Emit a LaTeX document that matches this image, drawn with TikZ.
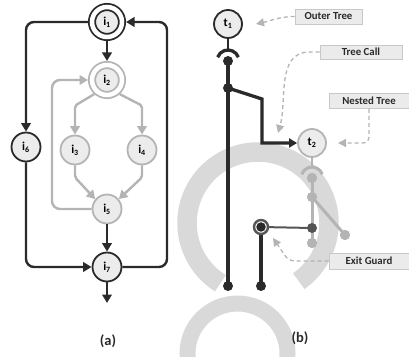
\documentclass[tikz,border=0pt]{standalone}
\usepackage{fontspec}
\setmainfont{Carlito}[BoldFont={Carlito Bold}]
\usetikzlibrary{arrows.meta}
\definecolor{ink}{HTML}{2A2A2A}
\definecolor{pale}{HTML}{ECECEC}
\definecolor{soft}{HTML}{B4B4B4}
\definecolor{mid}{HTML}{555555}
\definecolor{band}{HTML}{D9D9D9}
\definecolor{boxline}{HTML}{C8C8C8}
\definecolor{boxfill}{HTML}{EBEBEB}
\tikzset{
  inode/.style={circle,draw=ink,fill=pale,line width=1.8pt,minimum size=29pt,inner sep=0pt,
    font=\bfseries\fontsize{12}{14}\selectfont},
  gnode/.style={inode,draw=soft},
  dnode/.style={inode,double=white,double distance=4.5pt,minimum size=30pt,outer sep=4pt},
  darkedge/.style={draw=ink,line width=2.4pt,-{Triangle[length=8.5pt,width=9.5pt]}},
  greyedge/.style={draw=soft,line width=2.4pt,-{Triangle[length=8.5pt,width=9.5pt]}},
  bline/.style={draw=ink,line width=3.3pt},
  gline/.style={draw=soft,line width=3pt},
  bdot/.style={circle,fill=ink,inner sep=0pt,minimum size=10pt},
  gdot/.style={bdot,fill=soft},
  callout/.style={draw=boxline,fill=boxfill,line width=0.6pt,inner sep=0pt,text=ink,
    font=\bfseries\fontsize{10.8}{12}\selectfont},
  pointer/.style={draw=soft,line width=1.3pt,dash pattern=on 4pt off 3pt,
    -{Triangle[length=8pt,width=8pt]}},
  caption/.style={font=\bfseries\fontsize{14.5}{16}\selectfont,text=ink}
}
\begin{document}
\begin{tikzpicture}[x=1pt,y=1pt]
\clip (0,0) rectangle (409,356);
%background bands
\draw[band,line width=19.5pt] (258,133) ++(-55:71) arc (-55:238:71);
\draw[band,line width=16pt] (237.5,2.5) circle (50);
%(a) nodes
\node[dnode] (i1) at (107,334) {i\textsubscript{1}};
\node[dnode,draw=soft] (i2) at (107,276) {i\textsubscript{2}};
\node[gnode] (i3) at (75,206) {i\textsubscript{3}};
\node[gnode] (i4) at (142,206) {i\textsubscript{4}};
\node[gnode] (i5) at (107,147) {i\textsubscript{5}};
\node[inode] (i6) at (26,209) {i\textsubscript{6}};
\node[inode] (i7) at (107,89) {i\textsubscript{7}};
\coordinate (outA) at (107,53);
\coordinate (rgt) at (167,334);
\coordinate (loopc) at (52,276);
%(a) edges
\draw[darkedge] (i1) -- (i2);
\draw[darkedge,rounded corners=8] (i1.west) -| (i6.north);
\draw[darkedge,rounded corners=8] (i6.south) |- (i7.west);
\draw[darkedge,rounded corners=8] (i7.east) -| (rgt) -- (i1.east);
\draw[darkedge] (i5) -- (i7);
\draw[darkedge] (i7) -- (outA);
\draw[greyedge,rounded corners=2] (i2.-132) -- ([yshift=29pt]i3.north) -- (i3.north);
\draw[greyedge,rounded corners=2] (i2.-48) -- ([yshift=29pt]i4.north) -- (i4.north);
\draw[greyedge,rounded corners=2] (i3.south) -- ([yshift=-12pt]i3.south) -- (i5.140);
\draw[greyedge,rounded corners=2] (i4.south) -- ([yshift=-12pt]i4.south) -- (i5.40);
\draw[greyedge,rounded corners=8] (i5.west) -| (loopc) -- (i2.west);
\node[caption] (capa) at (108,15) {(a)};
%(b) outer tree
\node[inode,minimum size=28pt] (t1) at (228,332) {t\textsubscript{1}};
\node[bdot] (d1) at (228,295) {};
\node[bdot] (j1) at (228,268) {};
\node[bdot] (bot1) at (228,70) {};
\node[bdot] (bot2) at (261,70) {};
\coordinate (k1) at (262,257);
\coordinate (k2) at (262,213);
\draw[draw=ink,line width=2.5pt] (t1.south) -- ([yshift=11pt]d1.center);
\draw[bline] ([shift={(20:11)}]d1.center) arc (20:160:11);
\draw[bline] (d1.center) -- (bot1.center);
%(b) nested tree
\node[gnode,minimum size=28pt] (t2) at (312,213) {t\textsubscript{2}};
\draw[bline,-{Triangle[length=8pt,width=9pt]}] (j1.center) -- (k1) -- (k2) -- (t2.west);
\node[gdot] (u1) at (312,178) {};
\node[gdot] (u2) at (312,159) {};
\node[gdot] (u3) at (345,121) {};
\node[gdot] (u5) at (312,113) {};
\draw[draw=soft,line width=2.5pt] (t2.south) -- ([yshift=11pt]u1.center);
\draw[gline] ([shift={(20:11)}]u1.center) arc (20:160:11);
\draw[gline] (u1.center) -- (u5.center);
\draw[gline] (u2.center) -- (u3.center);
\node[gdot] (u1b) at (u1) {};
\node[gdot] (u2b) at (u2) {};
\node[gdot] (u3b) at (u3) {};
\node[gdot] (u5b) at (u5) {};
%exit guard
\node[bdot,fill=mid] (u4) at (312,128) {};
\coordinate (egc) at (261,129);
\draw[draw=mid,line width=2pt] (egc) -- (u4.center);
\draw[bline] (egc) -- (bot2.center);
\node[circle,draw=mid,line width=2.4pt,fill=white,minimum size=14pt,inner sep=0pt] (eg) at (egc) {};
\node[bdot,minimum size=9.5pt] (egin) at (egc) {};
\node[caption] (capb) at (300,18) {(b)};
%callouts
\node[callout,minimum width=67pt,minimum height=15pt] (outer) at (328.5,339.5) {Outer Tree};
\node[callout,minimum width=82pt,minimum height=14pt] (call) at (361,304) {Tree Call};
\node[callout,minimum width=80pt,minimum height=15pt] (nested) at (369,255) {Nested Tree};
\node[callout,minimum width=80pt,minimum height=16pt] (exit) at (369,95) {Exit Guard};
\coordinate (p1) at (256,332);
\coordinate (p2) at (278,223);
\coordinate (p3) at (338,213);
\coordinate (p4) at (273,118);
\draw[pointer] (outer.west) to[out=180,in=12] (p1);
\draw[pointer] (call.west) -- ++(-10,0) to[out=180,in=74] (p2);
\draw[pointer,rounded corners=6] (nested.south) |- (p3);
\draw[pointer,rounded corners=6] (exit.west) -- ++(-40,0) -- (p4);
\end{tikzpicture}
\end{document}
